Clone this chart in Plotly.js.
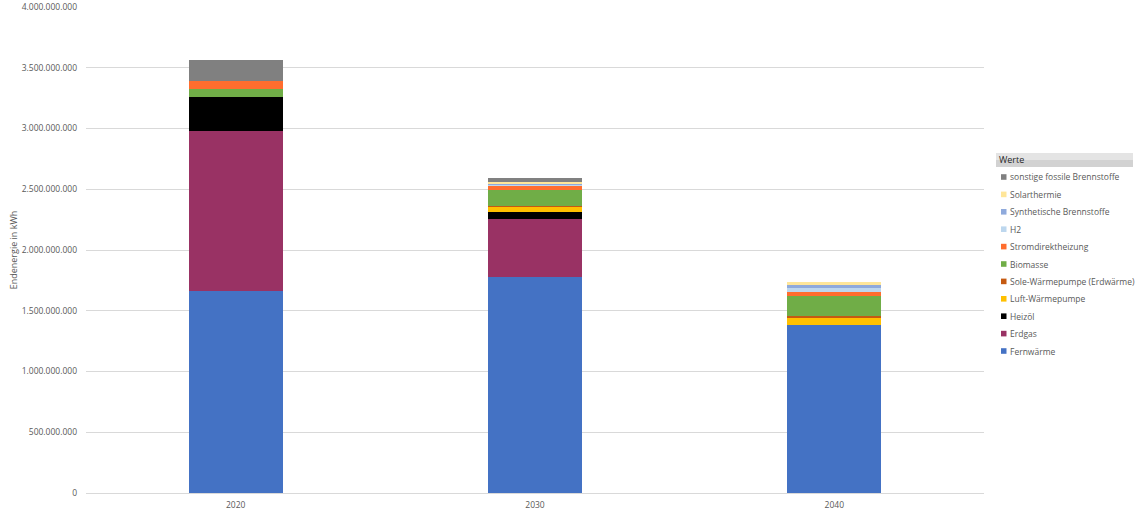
<!DOCTYPE html>
<html><head><meta charset="utf-8">
<script src="https://cdn.plot.ly/plotly-3.0.1.min.js"></script>
<style>html,body{margin:0;padding:0;background:#fff}#chart{width:1140px;height:515px}</style>
</head><body><div id="chart"></div>
<script>
const years = ['2020', '2030', '2040'];
// series in stacking order (bottom to top)
const seriesNames = ['Fernwärme', 'Erdgas', 'Heizöl', 'Luft-Wärmepumpe', 'Sole-Wärmepumpe (Erdwärme)', 'Biomasse', 'Stromdirektheizung', 'H2', 'Synthetische Brennstoffe', 'Solarthermie', 'sonstige fossile Brennstoffe'];
const seriesColors = ['#4472C4', '#993264', '#000000', '#FFC000', '#C55A11', '#70AD47', '#FF6D2E', '#BDD7EE', '#8FAADC', '#FFE699', '#808080'];
const fernwaerme = [1662000000, 1775000000, 1383000000];
const erdgas = [1317000000, 480000000, 0];
const heizoel = [283000000, 60000000, 0];
const luftWP = [0, 40000000, 60000000];
const soleWP = [0, 8000000, 12000000];
const biomasse = [66000000, 130000000, 165000000];
const strom = [66000000, 35000000, 38000000];
const h2 = [0, 10000000, 33000000];
const synth = [0, 8000000, 22000000];
const solar = [0, 16000000, 22000000];
const sonstige = [170000000, 33000000, 0];
const seriesValues = [fernwaerme, erdgas, heizoel, luftWP, soleWP, biomasse, strom, h2, synth, solar, sonstige];
const yTicks = [0, 500000000, 1000000000, 1500000000, 2000000000, 2500000000, 3000000000, 3500000000, 4000000000];

const fontFam = 'Open Sans, Noto Sans, sans-serif';
const traces = seriesNames.map((n, i) => ({
  type: 'bar', name: n, x: years, y: seriesValues[i],
  marker: {color: seriesColors[i], line: {width: 0}},
  showlegend: false, hoverinfo: 'x+y+name'
}));

// plot-area geometry (paper coords are relative to plot area)
const ML = 86, MR = 156, MT = 7, MB = 22, W = 1140, H = 515;
const PW = W - ML - MR, PH = H - MT - MB;
const px = v => (v - ML) / PW, py = v => (H - MB - v) / PH;

// custom legend (Excel pivot style), top item = last series
const annotations = [];
const shapes = [];
const legX = 1001, legY0 = 177, legStep = 17.4;
shapes.push({type: 'rect', xref: 'paper', yref: 'paper', x0: px(996), x1: px(1133), y0: py(167), y1: py(153),
  fillcolor: '#d2d2d2', line: {width: 0}, layer: 'above'});
shapes.push({type: 'rect', xref: 'paper', yref: 'paper', x0: px(996), x1: px(1133), y0: py(160), y1: py(153),
  fillcolor: '#e4e4e4', line: {width: 0}, layer: 'above'});
annotations.push({xref: 'paper', yref: 'paper', x: px(997), y: py(160), text: 'Werte', showarrow: false,
  xanchor: 'left', yanchor: 'middle', font: {family: fontFam, size: 9, color: '#262626'}});
for (let k = 0; k < seriesNames.length; k++) {
  const i = seriesNames.length - 1 - k;
  const yc = legY0 + k * legStep;
  shapes.push({type: 'rect', xref: 'paper', yref: 'paper', x0: px(legX), x1: px(legX + 5.5), y0: py(yc + 2.8), y1: py(yc - 2.8),
    fillcolor: seriesColors[i], line: {width: 0}, layer: 'above'});
  annotations.push({xref: 'paper', yref: 'paper', x: px(legX + 7), y: py(yc), text: seriesNames[i], showarrow: false,
    xanchor: 'left', yanchor: 'middle', font: {family: fontFam, size: 8.5, color: '#595959'}});
}

const layout = {
  width: W, height: H,
  margin: {l: ML, r: MR, t: MT, b: MB, pad: 0},
  barmode: 'stack', bargap: 0.686,
  separators: ',.',
  paper_bgcolor: '#ffffff', plot_bgcolor: '#ffffff',
  showlegend: false,
  font: {family: fontFam, size: 8.5, color: '#595959'},
  xaxis: {type: 'category', showgrid: false, showline: true, linecolor: '#d9d9d9', linewidth: 1,
    ticks: '', tickfont: {family: fontFam, size: 8.5, color: '#595959'}, ticklabelstandoff: 4, fixedrange: true},
  yaxis: {range: [0, 4000000000], tickvals: yTicks, tickformat: ',d', showgrid: true, gridcolor: '#d9d9d9', gridwidth: 1,
    zeroline: false, showline: false, ticks: '', ticklabelstandoff: 8,
    tickfont: {family: fontFam, size: 8.5, color: '#595959'},
    title: {text: 'Endenergie in kWh', font: {family: fontFam, size: 9, color: '#595959'}, standoff: 2}},
  shapes: shapes, annotations: annotations
};
Plotly.newPlot('chart', traces, layout, {displayModeBar: false, staticPlot: true});
</script></body></html>
